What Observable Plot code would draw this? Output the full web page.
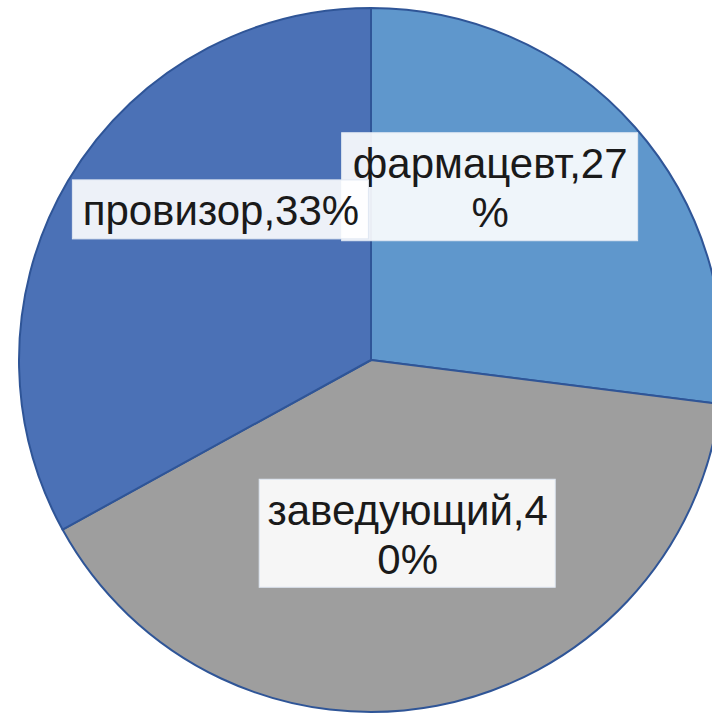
<!DOCTYPE html>
<html>
<head>
<meta charset="utf-8">
<script src="https://cdn.jsdelivr.net/npm/d3@7"></script>
<script src="https://cdn.jsdelivr.net/npm/@observablehq/plot@0.6"></script>
<style>
  html, body { margin: 0; padding: 0; background: #ffffff; }
  #chart { width: 712px; height: 715px; overflow: hidden; }
</style>
</head>
<body>
<div id="chart"></div>
<script>
// ---- data ----
const categories = ["фармацевт", "заведующий", "провизор"];
const values = [27, 40, 33];
const colors = ["#5f97cc", "#9e9e9e", "#4b71b6"];

// ---- layout ----
const W = 712, H = 715;
const cx = 371, cy = 360, R = 352;
// label placement: polar (degrees clockwise from 12 o'clock, radius in px)
const labelAngle = [34.4, 168.2, 315];
const labelRadius = [210, 177, 213];
const boxWidth = 296, lineStep = 49, boxPad = 10;

const pie = d3.pie().sort(null).value(d => d.value)(
  categories.map((c, i) => ({ category: c, value: values[i], color: colors[i] }))
);

function wrap(s, n) {
  return s.length > n ? s.slice(0, n) + "\n" + s.slice(n) : s;
}

const labels = categories.map((c, i) => {
  const a = labelAngle[i] * Math.PI / 180;
  const text = wrap(`${c},${values[i]}%`, 12);
  const lines = text.split("\n").length;
  const x = cx + labelRadius[i] * Math.sin(a);
  const y = cy - labelRadius[i] * Math.cos(a);
  const h = lines * lineStep + boxPad;
  return { text, x, y, x1: x - boxWidth / 2, x2: x + boxWidth / 2, y1: y - h / 2, y2: y + h / 2 };
});

function pieMark(index, scales, values, dimensions, context) {
  const g = d3.create("svg:g");
  const arc = d3.arc().innerRadius(0).outerRadius(R);
  const px = scales.x(cx), py = scales.y(cy);
  g.attr("transform", `translate(${px},${py})`);
  g.selectAll("path")
    .data(pie)
    .join("path")
    .attr("d", arc)
    .attr("fill", d => d.data.color)
    .attr("stroke", "#2f5597")
    .attr("stroke-width", 2)
    .attr("stroke-linejoin", "round");
  return g.node();
}

const labelOrder = [0, 1, 2];
const labelMarks = labelOrder.flatMap(i => [
  Plot.rect([labels[i]], {
    x1: "x1", x2: "x2", y1: "y1", y2: "y2",
    fill: "#ffffff", fillOpacity: 0.9,
    stroke: "#dfe7f2", strokeWidth: 1
  }),
  Plot.text([labels[i]], {
    x: "x", y: "y", text: "text",
    fontSize: 42, lineHeight: 1.16,
    fontFamily: "'Liberation Sans', Arial, sans-serif",
    fill: "#1a1a1a", textAnchor: "middle", lineAnchor: "middle"
  })
]);

const chart = Plot.plot({
  width: W,
  height: H,
  margin: 0,
  style: { background: "#ffffff", overflow: "hidden" },
  x: { domain: [0, W], range: [0, W], axis: null },
  y: { domain: [0, H], range: [0, H], axis: null },
  marks: [pieMark, ...labelMarks]
});

document.getElementById("chart").append(chart);
</script>
</body>
</html>
